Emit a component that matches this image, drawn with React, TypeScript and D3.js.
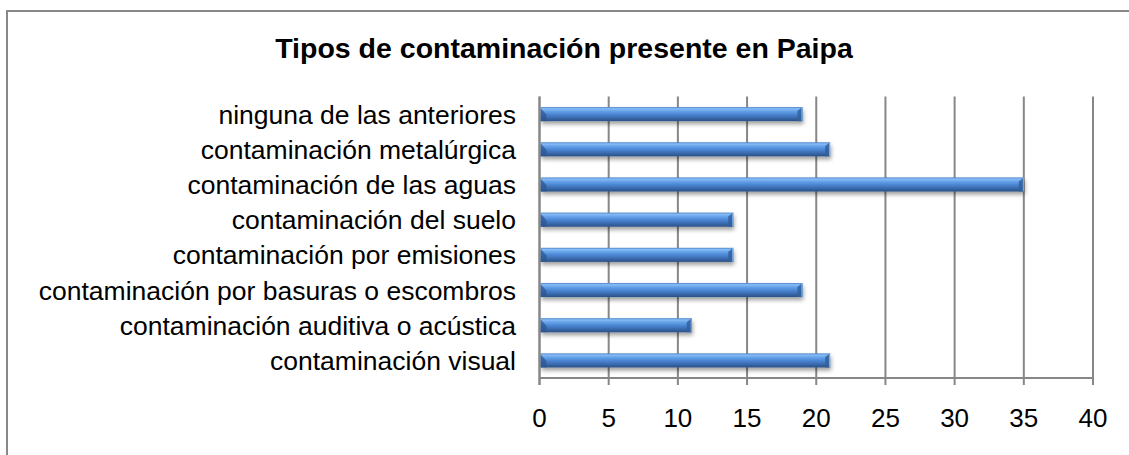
import React from "react";
import * as d3 from "d3";

const categories = [
  "ninguna de las anteriores",
  "contaminación metalúrgica",
  "contaminación de las aguas",
  "contaminación del suelo",
  "contaminación por emisiones",
  "contaminación por basuras o escombros",
  "contaminación auditiva o acústica",
  "contaminación visual",
];
const values = [19, 21, 35, 14, 14, 19, 11, 21];
const tickValues = [0, 5, 10, 15, 20, 25, 30, 35, 40];
const title = "Tipos de contaminación presente en Paipa";

const W = 1129;
const H = 455;
const plot = { left: 539.5, right: 1093, top: 96.5, bottom: 378 };
const FONT = "'Liberation Sans', Arial, sans-serif";
const GRID = "#878787";

export default function App() {
  const x = d3.scaleLinear().domain([0, 40]).range([plot.left, plot.right]);
  const y = d3
    .scaleBand<string>()
    .domain(categories)
    .range([plot.top, plot.bottom])
    .paddingInner(0.6)
    .paddingOuter(0.3);
  const bh = y.bandwidth();

  return (
    <svg
      width={W}
      height={H}
      style={{ position: "absolute", left: 0, top: 0, background: "#fff" }}
    >
      <defs>
        <linearGradient id="barGrad" x1="0" y1="0" x2="0" y2="1">
          <stop offset="0%" stopColor="#4d84cc" />
          <stop offset="12%" stopColor="#86bcf5" />
          <stop offset="30%" stopColor="#64a0e8" />
          <stop offset="52%" stopColor="#4b86d3" />
          <stop offset="75%" stopColor="#3b6cb0" />
          <stop offset="100%" stopColor="#2a5186" />
        </linearGradient>
        <filter id="shadow" x="-5%" y="-50%" width="110%" height="220%">
          <feDropShadow dx="1" dy="3" stdDeviation="2" floodColor="#000" floodOpacity="0.38" />
        </filter>
      </defs>

      <rect x={7} y={11} width={W} height={H} fill="#fff" stroke="#888" strokeWidth={2} />

      <text
        x={564}
        y={58}
        textAnchor="middle"
        fontFamily={FONT}
        fontWeight="bold"
        fontSize={28.5}
        fill="#000"
      >
        {title}
      </text>

      {/* gridlines and ticks */}
      {tickValues.map((t) => (
        <line
          key={"g" + t}
          x1={x(t)}
          x2={x(t)}
          y1={plot.top}
          y2={plot.bottom + 7}
          stroke={GRID}
          strokeWidth={2}
        />
      ))}
      <line x1={plot.left} x2={plot.right + 1} y1={plot.bottom} y2={plot.bottom} stroke={GRID} strokeWidth={2} />

      {/* bars */}
      {categories.map((c, i) => {
        const y0 = y(c)!;
        const x0 = x(0) + 1;
        const x1 = x(values[i]);
        return (
          <g key={c}>
            <rect x={x0} y={y0} width={x1 - x0} height={bh} fill="url(#barGrad)" filter="url(#shadow)" />
            <polygon
              points={`${x0},${y0 + 1} ${x0 + 6},${y0 + bh * 0.55} ${x0 + 6},${y0 + bh} ${x0},${y0 + bh}`}
              fill="#2c5791"
              opacity={0.75}
            />
            <polygon
              points={`${x1 - 5},${y0 + 4} ${x1},${y0} ${x1},${y0 + bh} ${x1 - 5},${y0 + bh}`}
              fill="#33609c"
              opacity={0.85}
            />
            <line x1={x1 - 0.5} x2={x1 - 0.5} y1={y0} y2={y0 + bh} stroke="#7fb2ee" strokeWidth={1} />
          </g>
        );
      })}

      {/* left axis */}
      <line x1={plot.left} x2={plot.left} y1={plot.top} y2={plot.bottom + 7} stroke={GRID} strokeWidth={2} />

      {/* category labels */}
      {categories.map((c) => (
        <text
          key={"l" + c}
          x={516}
          y={y(c)! + bh / 2}
          dy="0.36em"
          textAnchor="end"
          fontFamily={FONT}
          fontSize={26.5}
          fill="#000"
        >
          {c}
        </text>
      ))}

      {/* tick labels */}
      {tickValues.map((t) => (
        <text
          key={"t" + t}
          x={x(t)}
          y={427}
          textAnchor="middle"
          fontFamily={FONT}
          fontSize={26}
          fill="#000"
        >
          {t}
        </text>
      ))}
    </svg>
  );
}
